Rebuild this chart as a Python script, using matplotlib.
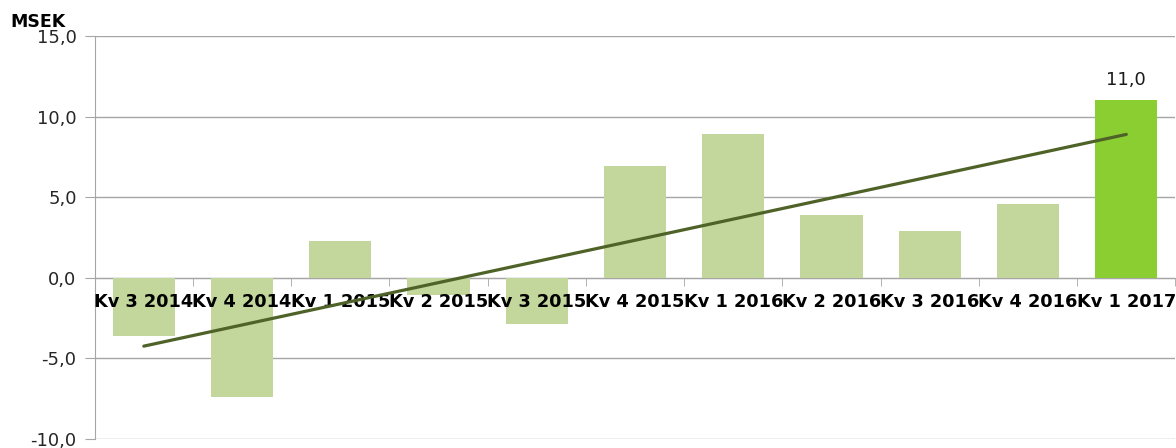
import numpy as np
import matplotlib
matplotlib.use("Agg")
import matplotlib.pyplot as plt
from matplotlib.ticker import FixedLocator, MultipleLocator, FuncFormatter

categories = ["Kv 3 2014", "Kv 4 2014", "Kv 1 2015", "Kv 2 2015", "Kv 3 2015",
              "Kv 4 2015", "Kv 1 2016", "Kv 2 2016", "Kv 3 2016", "Kv 4 2016",
              "Kv 1 2017"]
values = [-3.6, -7.4, 2.3, -1.1, -2.9, 6.9, 8.9, 3.9, 2.9, 4.6, 11.0]
highlight_index = 10
unit_label = "MSEK"

light = "#c3d69b"
bright = "#8bce32"
trend_col = "#4f6228"
grid_col = "#a6a6a6"

fig = plt.figure(figsize=(11.76, 4.48), dpi=100)
ax = fig.add_axes([0.0805, 0.0208, 0.919, 0.8988])

x = np.arange(len(categories))
colors = [bright if i == highlight_index else light for i in range(len(values))]
ax.bar(x, values, width=0.635, color=colors, zorder=2)

coef = np.polyfit(x, values, 1)
ax.plot(x, np.polyval(coef, x), color=trend_col, lw=2.3, solid_capstyle="round", zorder=3)

ax.annotate(f"{values[highlight_index]:.1f}".replace(".", ","),
            (x[highlight_index], values[highlight_index]),
            xytext=(0, 8), textcoords="offset points", ha="center", va="bottom",
            fontsize=13, color="#1a1a1a", family="DejaVu Sans")

ax.set_xlim(-0.5, len(categories) - 0.5)
ax.set_ylim(-10, 15)
ax.yaxis.set_major_locator(MultipleLocator(5))
ax.yaxis.set_major_formatter(FuncFormatter(lambda v, p: f"{v:.1f}".replace(".", ",")))
ax.grid(axis="y", color=grid_col, lw=1, zorder=0)
ax.set_axisbelow(True)

ax.spines["top"].set_visible(False)
ax.spines["right"].set_visible(False)
ax.spines["left"].set_color(grid_col)
ax.spines["bottom"].set_color(grid_col)
ax.spines["bottom"].set_position(("data", 0))
ax.spines["bottom"].set_zorder(1)

ax.set_xticks(x)
ax.set_xticklabels(categories, fontsize=12.8, fontweight="bold", color="black")
ax.tick_params(axis="x", which="major", length=0, pad=11)
ax.xaxis.set_minor_locator(FixedLocator(np.arange(-0.5, len(categories), 1.0)))
ax.tick_params(axis="x", which="minor", length=6, color=grid_col, direction="out")
ax.tick_params(axis="y", length=7, color=grid_col, labelsize=13, labelcolor="#262626", pad=6)
ax.xaxis.set_zorder(2.5)

fig.text(0.0085, 0.951, unit_label, fontsize=12.5, fontweight="bold", ha="left", va="center")

fig.savefig("out.png", dpi=100)
